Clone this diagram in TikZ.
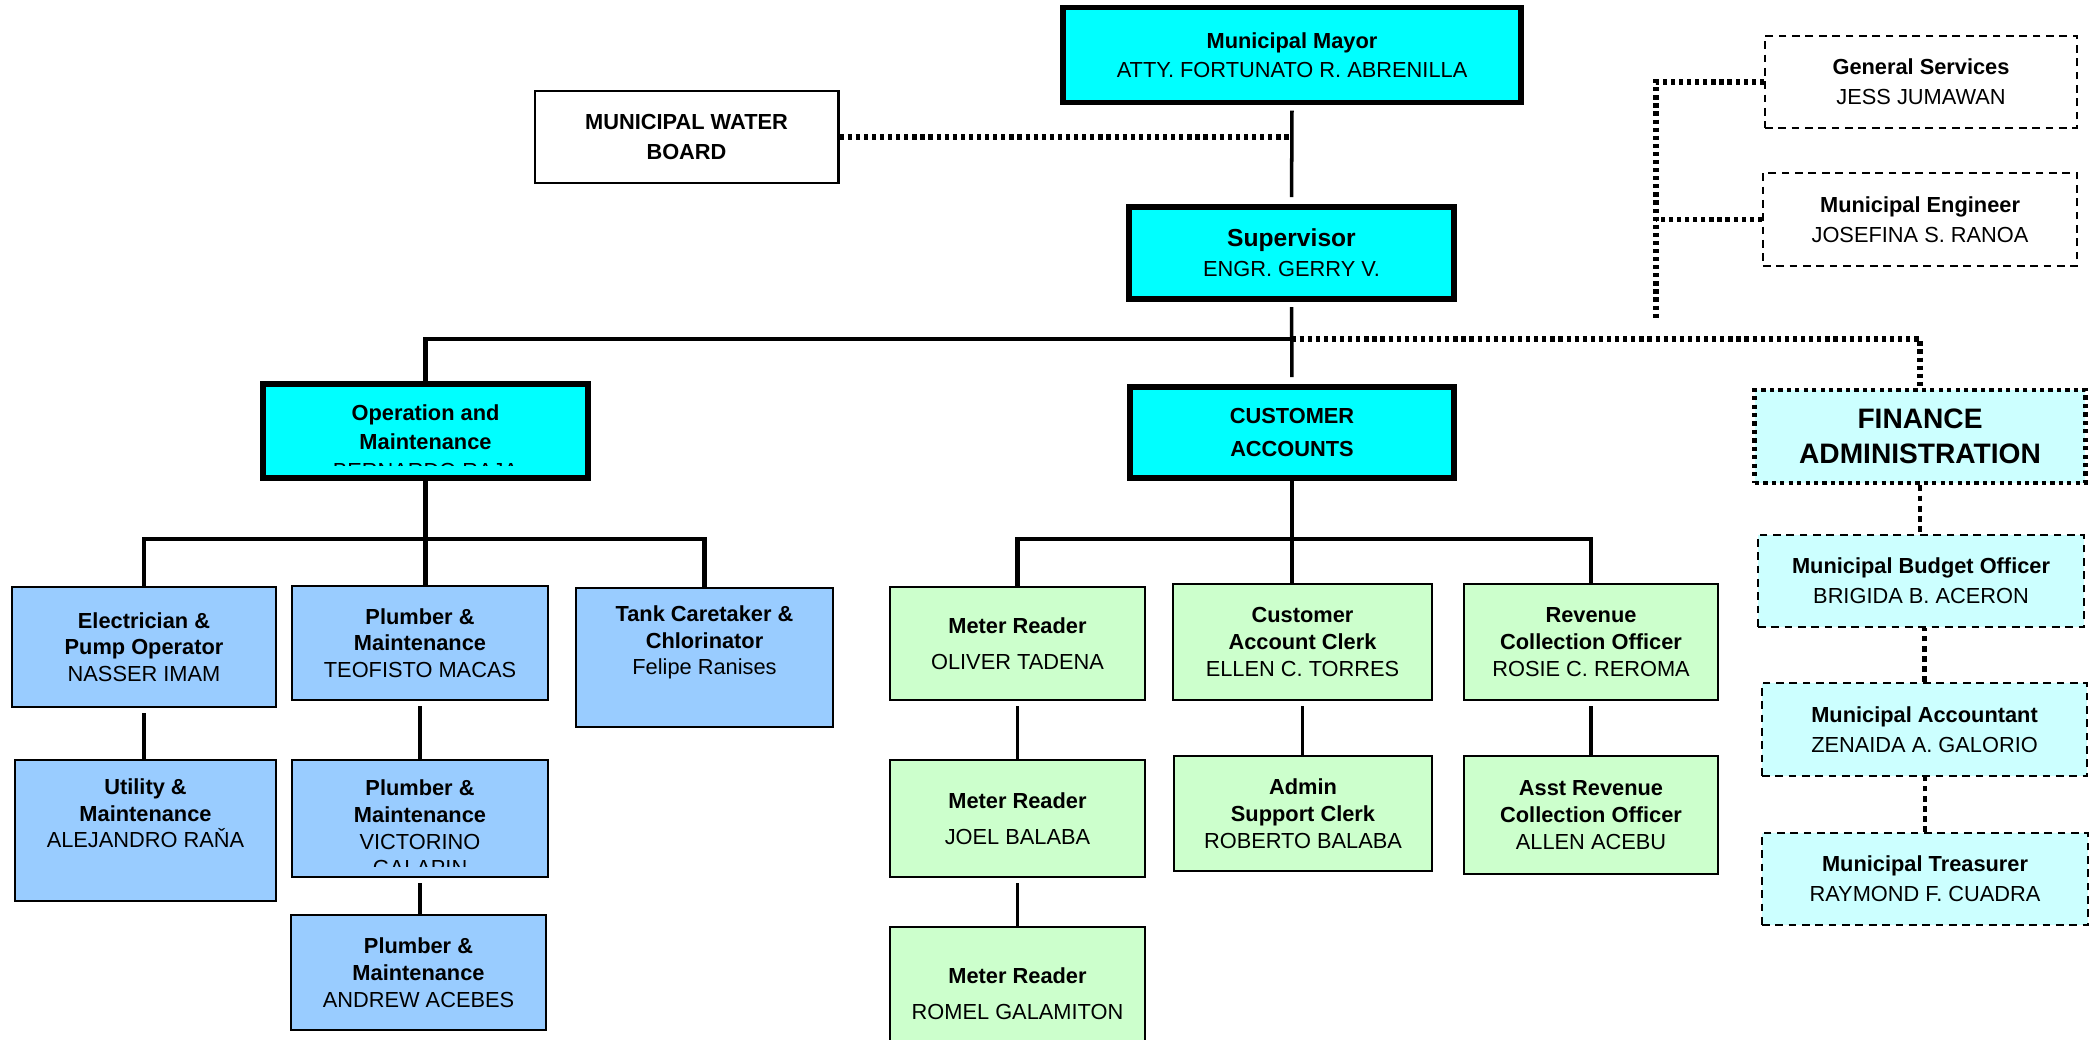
\documentclass[tikz,border=0pt]{standalone}
\usepackage{fontspec}
\setmainfont{Liberation Sans}
\usepackage{tikz}
\definecolor{headcyan}{HTML}{00FFFF}
\definecolor{opsblue}{HTML}{99CCFF}
\definecolor{accgreen}{HTML}{CCFFCC}
\definecolor{fincyan}{HTML}{CCFFFF}

\begin{document}
\begin{tikzpicture}[x=0.01cm, y=-0.01cm,
    every node/.style={font=\fontsize{6.2}{7.6}\selectfont, align=center},
    headbox/.style={draw, line width=1.6pt, fill=headcyan, minimum width=3.25cm, minimum height=0.92cm},
    opsbox/.style={draw, line width=0.6pt, fill=opsblue, minimum width=2.56cm, minimum height=1.15cm},
    accbox/.style={draw, line width=0.6pt, fill=accgreen, minimum width=2.55cm, minimum height=1.15cm},
    staffbox/.style={draw, line width=0.5pt, dash pattern=on 2.2pt off 1.6pt, minimum width=3.13cm, minimum height=0.92cm},
    finbox/.style={staffbox, fill=fincyan, minimum width=3.26cm},
    link/.style={line width=1pt, shorten <=1.5pt},
    bar/.style={line width=1.4pt},
    dotlink/.style={line width=1.6pt, dash pattern=on 1.2pt off 1.1pt},
    findot/.style={line width=1.3pt, dash pattern=on 1.6pt off 1.3pt}]
    \useasboundingbox (0,0) rectangle (2092,1040);

    % top
    \node[headbox, minimum width=4.58cm, minimum height=0.95cm] (mayor) at (1292,55) {\textbf{Municipal Mayor}\\[0.8pt]ATTY. FORTUNATO R. ABRENILLA};
    \node[draw, line width=0.8pt, minimum width=3.03cm, minimum height=0.92cm] (board) at (686.5,137) {\textbf{MUNICIPAL WATER}\\[1.2pt]\textbf{BOARD}};
    \node[headbox] (sup) at (1291.5,253) {{\fontsize{7}{8}\selectfont\textbf{Supervisor}}\\[1pt]ENGR. GERRY V.};

    % staff of the mayor
    \node[staffbox, minimum width=3.12cm] (gs) at (1921,82) {\textbf{General Services}\\[1pt]JESS JUMAWAN};
    \node[staffbox, minimum width=3.14cm, minimum height=0.93cm] (eng) at (1920,219.5) {\textbf{Municipal Engineer}\\[1pt]JOSEFINA S. RANOA};

    % divisions
    \node[headbox, minimum height=0.94cm] (om) at (425.5,431) {};
    \begin{scope}
        \clip (om.north west) rectangle (588,465);
        \node (omtext) at (425.5,442) {\textbf{Operation and}\\[0.6pt]\textbf{Maintenance}\\[0.6pt]BERNARDO RAJA};
    \end{scope}
    \node[headbox, minimum width=3.24cm, minimum height=0.91cm] (ca) at (1292,432.5) {\textbf{CUSTOMER}\\[2pt]\textbf{ACCOUNTS}};
    \node[draw, line width=1.4pt, dash pattern=on 1.2pt off 1.2pt, fill=fincyan, minimum width=3.3cm, minimum height=0.93cm, font=\fontsize{8}{10}\selectfont] (fin) at (1920,436.5) {\textbf{FINANCE}\\\textbf{ADMINISTRATION}};

    % operation and maintenance
    \node[opsbox, minimum width=2.64cm, minimum height=1.2cm] (e1) at (144,647) {\textbf{Electrician \&}\\\textbf{Pump Operator}\\NASSER IMAM};
    \node[opsbox, minimum height=1.14cm] (p1) at (420,643) {\textbf{Plumber \&}\\\textbf{Maintenance}\\TEOFISTO MACAS};
    \node[opsbox, minimum width=2.57cm, minimum height=1.39cm] (tank) at (704.5,657.5) {\textbf{Tank Caretaker \&}\\\textbf{Chlorinator}\\Felipe Ranises\\[2.2pt]\mbox{}};
    \node[opsbox, minimum width=2.61cm, minimum height=1.41cm] (e2) at (145.5,830.5) {\textbf{Utility \&}\\\textbf{Maintenance}\\ALEJANDRO RAŇA\\[2.2pt]\mbox{}};
    \node[opsbox, minimum height=1.17cm] (p2) at (420,818.5) {};
    \begin{scope}
        \clip (p2.north west) rectangle (548,866);
        \node (p2text) at (420,828) {\textbf{Plumber \&}\\\textbf{Maintenance}\\VICTORINO\\GALAPIN};
    \end{scope}
    \node[opsbox, minimum width=2.55cm] (p3) at (418.5,972.5) {\textbf{Plumber \&}\\\textbf{Maintenance}\\ANDREW ACEBES};

    % customer accounts
    \node[accbox, minimum height=1.13cm] (m1) at (1017.5,643.5) {\textbf{Meter Reader}\\[2.6pt]OLIVER TADENA};
    \node[accbox, minimum height=1.17cm] (m2) at (1017.5,818.5) {\textbf{Meter Reader}\\[2.6pt]JOEL BALABA};
    \node[accbox, minimum height=1.33cm] (m3) at (1017.5,993.5) {\textbf{Meter Reader}\\[2.6pt]ROMEL GALAMITON};
    \node[accbox, minimum width=2.59cm, minimum height=1.16cm] (clerk) at (1302.5,642) {\textbf{Customer}\\\textbf{Account Clerk}\\ELLEN C. TORRES};
    \node[accbox, minimum width=2.58cm] (admin) at (1303,813.5) {\textbf{Admin}\\\textbf{Support Clerk}\\ROBERTO BALABA};
    \node[accbox, minimum width=2.54cm, minimum height=1.16cm] (rev) at (1591,642) {\textbf{Revenue}\\\textbf{Collection Officer}\\ROSIE C. REROMA};
    \node[accbox, minimum width=2.54cm, minimum height=1.18cm] (asst) at (1591,815) {\textbf{Asst Revenue}\\\textbf{Collection Officer}\\ALLEN ACEBU};

    % finance
    \node[finbox] (bud) at (1921,581) {\textbf{Municipal Budget Officer}\\[1pt]BRIGIDA B. ACERON};
    \node[finbox, minimum width=3.25cm, minimum height=0.93cm] (acct) at (1924.5,729.5) {\textbf{Municipal Accountant}\\[1pt]ZENAIDA A. GALORIO};
    \node[finbox] (treas) at (1925,879) {\textbf{Municipal Treasurer}\\[1pt]RAYMOND F. CUADRA};

    % lines
    \coordinate (hub) at (1291.5,339);
    \coordinate (tbot) at (1656,320);
    \coordinate (omb) at (425.5,539);
    \coordinate (cab) at (1291.5,539);

    \draw[link, shorten >=2pt] (mayor.south) -- (sup.north);
    \draw[dotlink] (board.east) -- (board.east -| mayor.south);
    \draw[link, shorten >=2pt] (sup.south) -- (ca.north);
    \draw[bar] (om.north) |- (hub);
    \draw[dotlink] (hub) -| (fin.north);
    \draw[dotlink] (gs.west) -| (tbot);
    \draw[dotlink] (eng.west) -- (eng.west -| tbot);

    \draw[bar] (om.south) -- (om.south |- p1.north);
    \draw[bar] (e1.north) |- (omb) -| (tank.north);
    \draw[link] (e1.south) -- (e1.south |- e2.north);
    \draw[link] (p1.south) -- (p1.south |- p2.north);
    \draw[link] (p2.south) -- (p2.south |- p3.north);

    \draw[bar] (ca.south) -- (ca.south |- clerk.north);
    \draw[bar] (m1.north) |- (cab) -| (rev.north);
    \draw[link] (m1.south) -- (m2.north);
    \draw[link] (m2.south) -- (m3.north);
    \draw[link] (clerk.south) -- (clerk.south |- admin.north);
    \draw[link] (rev.south) -- (asst.north);

    \draw[findot] (fin.south) -- (fin.south |- bud.north);
    \draw[findot] (acct.north) -- (acct.north |- bud.south);
    \draw[findot] (treas.north) -- (treas.north |- acct.south);
\end{tikzpicture}
\end{document}
